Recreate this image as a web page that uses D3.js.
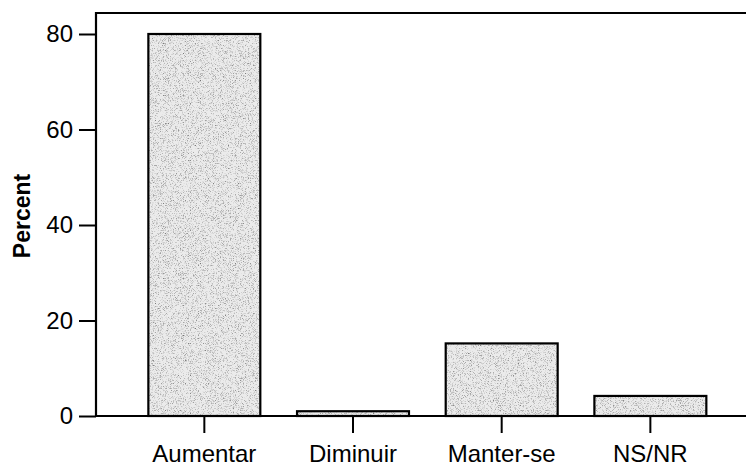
<!DOCTYPE html>
<html>
<head>
<meta charset="utf-8">
<script src="https://cdn.jsdelivr.net/npm/d3@7"></script>
<style>
  body { margin: 0; background: #fff; }
  text { font-family: "Liberation Sans", Arial, sans-serif; fill: #000; }
</style>
</head>
<body>
<div id="chart"></div>
<script>
var categories = ["Aumentar", "Diminuir", "Manter-se", "NS/NR"];
var percents = [80, 1, 15.2, 4.2];
var yTicks = [0, 20, 40, 60, 80];

var width = 746, height = 468;
var plotLeft = 96, plotTop = 13, plotBottom = 416;

var svg = d3.select("#chart").append("svg")
    .attr("width", width)
    .attr("height", height);

// stipple texture for the bars
var defs = svg.append("defs");
var f = defs.append("filter").attr("id", "stipple")
    .attr("x", 0).attr("y", 0).attr("width", 1).attr("height", 1);
f.append("feTurbulence")
    .attr("type", "fractalNoise")
    .attr("baseFrequency", 1.4)
    .attr("numOctaves", 1)
    .attr("seed", 3)
    .attr("result", "noise");
f.append("feColorMatrix")
    .attr("in", "noise")
    .attr("type", "matrix")
    .attr("values", "0 0 0 0 0  0 0 0 0 0  0 0 0 0 0  0 0 0 -2.4 1.2")
    .attr("result", "dots");
f.append("feComposite")
    .attr("in", "dots").attr("in2", "SourceGraphic")
    .attr("operator", "in").attr("result", "dotsIn");
f.append("feMerge").selectAll("feMergeNode")
    .data(["SourceGraphic", "dotsIn"]).enter()
    .append("feMergeNode").attr("in", function(d) { return d; });

var x = d3.scaleBand()
    .domain(categories)
    .range([130, 724.7])
    .paddingInner(0.247)
    .paddingOuter(0.1235);

var y = d3.scaleLinear()
    .domain([0, 80])
    .range([plotBottom, 34]);

// bars
svg.append("g").selectAll("rect")
    .data(categories)
    .enter().append("rect")
    .attr("x", function(d) { return x(d); })
    .attr("width", x.bandwidth())
    .attr("y", function(d, i) { return y(percents[i]); })
    .attr("height", function(d, i) { return plotBottom - y(percents[i]); })
    .attr("fill", "#ebebeb")
    .attr("filter", "url(#stipple)");

svg.append("g").selectAll("rect")
    .data(categories)
    .enter().append("rect")
    .attr("x", function(d) { return x(d); })
    .attr("width", x.bandwidth())
    .attr("y", function(d, i) { return y(percents[i]); })
    .attr("height", function(d, i) { return plotBottom - y(percents[i]); })
    .attr("fill", "none")
    .attr("stroke", "#000")
    .attr("stroke-width", 2.2);

// frame: top and left
svg.append("path")
    .attr("d", "M" + width + "," + plotTop + "H" + plotLeft + "V" + plotBottom)
    .attr("fill", "none")
    .attr("stroke", "#000")
    .attr("stroke-width", 2.2);

// y axis
var yAxis = svg.append("g")
    .attr("transform", "translate(" + plotLeft + ",0)")
    .call(d3.axisLeft(y).tickValues(yTicks).tickSize(17).tickPadding(6));
yAxis.select(".domain").remove();
yAxis.selectAll("line").attr("stroke", "#000").attr("stroke-width", 2);
yAxis.selectAll("text")
    .style("font-size", "24px")
    .attr("font-family", null);

// x axis
var xAxis = svg.append("g")
    .attr("transform", "translate(0," + plotBottom + ")")
    .call(d3.axisBottom(x).tickSize(17).tickPadding(12));
xAxis.select(".domain")
    .attr("d", "M" + plotLeft + ",0H" + width)
    .attr("stroke", "#000")
    .attr("stroke-width", 2.2);
xAxis.selectAll("line").attr("stroke", "#000").attr("stroke-width", 2);
xAxis.selectAll("text")
    .style("font-size", "24px")
    .attr("font-family", null);

// y label
svg.append("text")
    .attr("transform", "translate(30,216) rotate(-90)")
    .attr("text-anchor", "middle")
    .style("font-size", "23px")
    .style("font-weight", "bold")
    .text("Percent");
</script>
</body>
</html>
